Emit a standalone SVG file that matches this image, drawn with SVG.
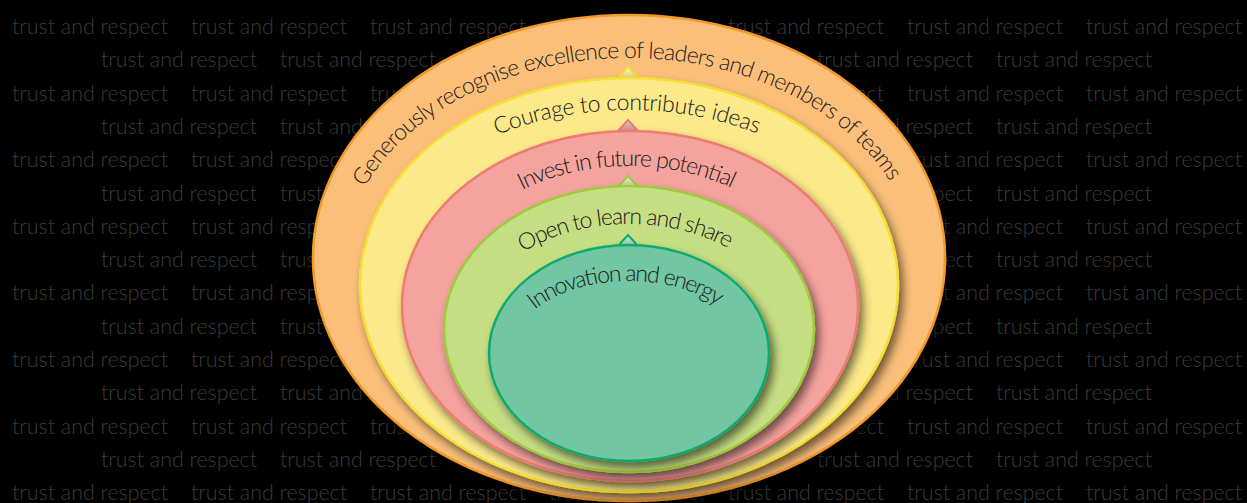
<svg xmlns="http://www.w3.org/2000/svg" width="1247" height="503" viewBox="0 0 1247 503">
  <style>
    .bg { font-family: Lato, "Open Sans", "Liberation Sans", sans-serif; font-weight: 300; font-size: 21px; fill: #3b3b3b; }
    .lbl { font-family: Lato, "Open Sans", "Liberation Sans", sans-serif; font-weight: 300; font-size: 23px; fill: #1e1a1a; }
    .ring { stroke-width: 2.5; filter: url(#shadow); }
    .tab { stroke-width: 2; }
  </style>
  <defs>
    <filter id="shadow" x="-10%" y="-10%" width="125%" height="130%">
      <feDropShadow dx="4" dy="6" stdDeviation="5" flood-color="#000" flood-opacity="0.55"/>
    </filter>
    <linearGradient id="tabY" x1="0" y1="0" x2="0" y2="1"><stop offset="0" stop-color="#fff6c8"/><stop offset="1" stop-color="#e0d070"/></linearGradient>
    <linearGradient id="tabP" x1="0" y1="0" x2="0" y2="1"><stop offset="0" stop-color="#f0c4c0"/><stop offset="1" stop-color="#c98a86"/></linearGradient>
    <linearGradient id="tabG" x1="0" y1="0" x2="0" y2="1"><stop offset="0" stop-color="#e6efc8"/><stop offset="1" stop-color="#b5c98a"/></linearGradient>
    <linearGradient id="tabT" x1="0" y1="0" x2="0" y2="1"><stop offset="0" stop-color="#cfe6da"/><stop offset="1" stop-color="#8fbfa8"/></linearGradient>
    <path id="arc1" d="M364.8,187.2 A287,212 0 0 1 893.2,187.2"/>
    <path id="arc2" d="M497.2,135 A256,175 0 0 1 760.8,135"/>
    <path id="arc3" d="M522.2,190 A191,140 0 0 1 735.8,190"/>
    <path id="arc4" d="M523.3,252.2 A155,105 0 0 1 734.7,252.2"/>
    <path id="arc5" d="M534.7,309.7 A118,72 0 0 1 723.3,309.7"/>
  </defs>

  <rect width="1247" height="503" fill="#000"/>

  <!-- repeated background wording (pieces covered by the rings are left out) -->
  <g id="background">
    <text class="bg" x="12" y="34" textLength="156" lengthAdjust="spacingAndGlyphs">trust and respect</text>
    <text class="bg" x="191" y="34" textLength="156" lengthAdjust="spacingAndGlyphs">trust and respect</text>
    <text class="bg" x="370" y="34" textLength="156" lengthAdjust="spacingAndGlyphs">trust and respect</text>
    <text class="bg" x="728" y="34" textLength="156" lengthAdjust="spacingAndGlyphs">trust and respect</text>
    <text class="bg" x="907" y="34" textLength="156" lengthAdjust="spacingAndGlyphs">trust and respect</text>
    <text class="bg" x="1086" y="34" textLength="156" lengthAdjust="spacingAndGlyphs">trust and respect</text>

    <text class="bg" x="101" y="67.3" textLength="156" lengthAdjust="spacingAndGlyphs">trust and respect</text>
    <text class="bg" x="280" y="67.3" textLength="156" lengthAdjust="spacingAndGlyphs">trust and respect</text>
    <text class="bg" x="817" y="67.3" textLength="156" lengthAdjust="spacingAndGlyphs">trust and respect</text>
    <text class="bg" x="996" y="67.3" textLength="156" lengthAdjust="spacingAndGlyphs">trust and respect</text>

    <text class="bg" x="12" y="100.6" textLength="156" lengthAdjust="spacingAndGlyphs">trust and respect</text>
    <text class="bg" x="191" y="100.6" textLength="156" lengthAdjust="spacingAndGlyphs">trust and respect</text>
    <text class="bg" x="370" y="100.6" textLength="156" lengthAdjust="spacingAndGlyphs">trust and respect</text>
    <text class="bg" x="728" y="100.6" textLength="156" lengthAdjust="spacingAndGlyphs">trust and respect</text>
    <text class="bg" x="907" y="100.6" textLength="156" lengthAdjust="spacingAndGlyphs">trust and respect</text>
    <text class="bg" x="1086" y="100.6" textLength="156" lengthAdjust="spacingAndGlyphs">trust and respect</text>

    <text class="bg" x="101" y="133.9" textLength="156" lengthAdjust="spacingAndGlyphs">trust and respect</text>
    <text class="bg" x="280" y="133.9" textLength="156" lengthAdjust="spacingAndGlyphs">trust and respect</text>
    <text class="bg" x="817" y="133.9" textLength="156" lengthAdjust="spacingAndGlyphs">trust and respect</text>
    <text class="bg" x="996" y="133.9" textLength="156" lengthAdjust="spacingAndGlyphs">trust and respect</text>

    <text class="bg" x="12" y="167.2" textLength="156" lengthAdjust="spacingAndGlyphs">trust and respect</text>
    <text class="bg" x="191" y="167.2" textLength="156" lengthAdjust="spacingAndGlyphs">trust and respect</text>
    <text class="bg" x="907" y="167.2" textLength="156" lengthAdjust="spacingAndGlyphs">trust and respect</text>
    <text class="bg" x="1086" y="167.2" textLength="156" lengthAdjust="spacingAndGlyphs">trust and respect</text>

    <text class="bg" x="101" y="200.5" textLength="156" lengthAdjust="spacingAndGlyphs">trust and respect</text>
    <text class="bg" x="280" y="200.5" textLength="156" lengthAdjust="spacingAndGlyphs">trust and respect</text>
    <text class="bg" x="817" y="200.5" textLength="156" lengthAdjust="spacingAndGlyphs">trust and respect</text>
    <text class="bg" x="996" y="200.5" textLength="156" lengthAdjust="spacingAndGlyphs">trust and respect</text>

    <text class="bg" x="12" y="233.8" textLength="156" lengthAdjust="spacingAndGlyphs">trust and respect</text>
    <text class="bg" x="191" y="233.8" textLength="156" lengthAdjust="spacingAndGlyphs">trust and respect</text>
    <text class="bg" x="907" y="233.8" textLength="156" lengthAdjust="spacingAndGlyphs">trust and respect</text>
    <text class="bg" x="1086" y="233.8" textLength="156" lengthAdjust="spacingAndGlyphs">trust and respect</text>

    <text class="bg" x="101" y="267.1" textLength="156" lengthAdjust="spacingAndGlyphs">trust and respect</text>
    <text class="bg" x="280" y="267.1" textLength="156" lengthAdjust="spacingAndGlyphs">trust and respect</text>
    <text class="bg" x="817" y="267.1" textLength="156" lengthAdjust="spacingAndGlyphs">trust and respect</text>
    <text class="bg" x="996" y="267.1" textLength="156" lengthAdjust="spacingAndGlyphs">trust and respect</text>

    <text class="bg" x="12" y="300.4" textLength="156" lengthAdjust="spacingAndGlyphs">trust and respect</text>
    <text class="bg" x="191" y="300.4" textLength="156" lengthAdjust="spacingAndGlyphs">trust and respect</text>
    <text class="bg" x="907" y="300.4" textLength="156" lengthAdjust="spacingAndGlyphs">trust and respect</text>
    <text class="bg" x="1086" y="300.4" textLength="156" lengthAdjust="spacingAndGlyphs">trust and respect</text>

    <text class="bg" x="101" y="333.7" textLength="156" lengthAdjust="spacingAndGlyphs">trust and respect</text>
    <text class="bg" x="280" y="333.7" textLength="156" lengthAdjust="spacingAndGlyphs">trust and respect</text>
    <text class="bg" x="817" y="333.7" textLength="156" lengthAdjust="spacingAndGlyphs">trust and respect</text>
    <text class="bg" x="996" y="333.7" textLength="156" lengthAdjust="spacingAndGlyphs">trust and respect</text>

    <text class="bg" x="12" y="367" textLength="156" lengthAdjust="spacingAndGlyphs">trust and respect</text>
    <text class="bg" x="191" y="367" textLength="156" lengthAdjust="spacingAndGlyphs">trust and respect</text>
    <text class="bg" x="907" y="367" textLength="156" lengthAdjust="spacingAndGlyphs">trust and respect</text>
    <text class="bg" x="1086" y="367" textLength="156" lengthAdjust="spacingAndGlyphs">trust and respect</text>

    <text class="bg" x="101" y="400.3" textLength="156" lengthAdjust="spacingAndGlyphs">trust and respect</text>
    <text class="bg" x="280" y="400.3" textLength="156" lengthAdjust="spacingAndGlyphs">trust and respect</text>
    <text class="bg" x="817" y="400.3" textLength="156" lengthAdjust="spacingAndGlyphs">trust and respect</text>
    <text class="bg" x="996" y="400.3" textLength="156" lengthAdjust="spacingAndGlyphs">trust and respect</text>

    <text class="bg" x="12" y="433.6" textLength="156" lengthAdjust="spacingAndGlyphs">trust and respect</text>
    <text class="bg" x="191" y="433.6" textLength="156" lengthAdjust="spacingAndGlyphs">trust and respect</text>
    <text class="bg" x="370" y="433.6" textLength="156" lengthAdjust="spacingAndGlyphs">trust and respect</text>
    <text class="bg" x="728" y="433.6" textLength="156" lengthAdjust="spacingAndGlyphs">trust and respect</text>
    <text class="bg" x="907" y="433.6" textLength="156" lengthAdjust="spacingAndGlyphs">trust and respect</text>
    <text class="bg" x="1086" y="433.6" textLength="156" lengthAdjust="spacingAndGlyphs">trust and respect</text>

    <text class="bg" x="101" y="466.9" textLength="156" lengthAdjust="spacingAndGlyphs">trust and respect</text>
    <text class="bg" x="280" y="466.9" textLength="156" lengthAdjust="spacingAndGlyphs">trust and respect</text>
    <text class="bg" x="817" y="466.9" textLength="156" lengthAdjust="spacingAndGlyphs">trust and respect</text>
    <text class="bg" x="996" y="466.9" textLength="156" lengthAdjust="spacingAndGlyphs">trust and respect</text>

    <text class="bg" x="12" y="500.2" textLength="156" lengthAdjust="spacingAndGlyphs">trust and respect</text>
    <text class="bg" x="191" y="500.2" textLength="156" lengthAdjust="spacingAndGlyphs">trust and respect</text>
    <text class="bg" x="370" y="500.2" textLength="156" lengthAdjust="spacingAndGlyphs">trust and respect</text>
    <text class="bg" x="549" y="500.2" textLength="156" lengthAdjust="spacingAndGlyphs">trust and respect</text>
    <text class="bg" x="728" y="500.2" textLength="156" lengthAdjust="spacingAndGlyphs">trust and respect</text>
    <text class="bg" x="907" y="500.2" textLength="156" lengthAdjust="spacingAndGlyphs">trust and respect</text>
    <text class="bg" x="1086" y="500.2" textLength="156" lengthAdjust="spacingAndGlyphs">trust and respect</text>
  </g>

  <!-- nested rings, outermost first -->
  <g id="ring-excellence">
    <ellipse class="ring" cx="629" cy="258" rx="316" ry="243" fill="#fbbf7a" stroke="#f39a2b"/>
    <text class="lbl"><textPath href="#arc1" textLength="608" lengthAdjust="spacing">Generously recognise excellence of leaders and members of teams</textPath></text>
  </g>

  <g id="ring-courage">
    <polygon class="tab" points="617,79 628,67 639,79" fill="url(#tabY)" stroke="#f4e033"/>
    <ellipse class="ring" cx="629" cy="285" rx="269" ry="207" fill="#fce98a" stroke="#f4e033"/>
    <text class="lbl"><textPath href="#arc2" textLength="266" lengthAdjust="spacing">Courage to contribute ideas</textPath></text>
  </g>

  <g id="ring-invest">
    <polygon class="tab" points="617,132 628,120 639,132" fill="url(#tabP)" stroke="#ee7b72"/>
    <ellipse class="ring" cx="630" cy="306" rx="228" ry="175" fill="#f5a39e" stroke="#ee7b72"/>
    <text class="lbl" font-size="22"><textPath href="#arc3" textLength="216" lengthAdjust="spacing">Invest in future potential</textPath></text>
  </g>

  <g id="ring-open">
    <polygon class="tab" points="617,188 628,176 639,188" fill="url(#tabG)" stroke="#9dcb3d"/>
    <ellipse class="ring" cx="629" cy="329" rx="185" ry="143" fill="#c6de83" stroke="#9dcb3d"/>
    <text class="lbl" font-size="22"><textPath href="#arc4" textLength="214" lengthAdjust="spacing">Open to learn and share</textPath></text>
  </g>

  <g id="ring-innovation">
    <polygon class="tab" points="617,247 628,235 639,247" fill="url(#tabT)" stroke="#0faa6e"/>
    <ellipse class="ring" cx="629" cy="353" rx="140" ry="108" fill="#72c6a4" stroke="#0faa6e"/>
    <text class="lbl" font-size="22"><textPath href="#arc5" textLength="194" lengthAdjust="spacing">Innovation and energy</textPath></text>
  </g>
</svg>
